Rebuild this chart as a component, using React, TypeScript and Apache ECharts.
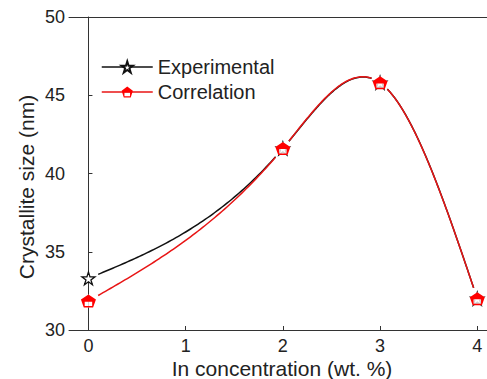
import React, { useEffect, useRef } from "react";
import * as echarts from "echarts";

const xTicks = [0, 1, 2, 3, 4];
const yTicks = [30, 35, 40, 45, 50];
const concentration = [0, 2, 3, 4];
const experimental = [33.3, 41.6, 45.8, 32.0];
const correlation = [31.85, 41.6, 45.8, 32.0];

const FONT = '"Liberation Sans", Arial, sans-serif';
const STAR =
  "path://M50 0 L61.2 34.6 L97.6 34.5 L68.1 55.9 L79.4 90.5 L50 69 L20.6 90.5 L31.9 55.9 L2.4 34.5 L38.8 34.6 Z";
const PENT =
  "path://M50 0 L100 38 L81 100 L19 100 L0 38 Z M25 55 L25 88 L75 88 L75 55 Z";
const PENT_FULL = "path://M50 0 L100 38 L81 100 L19 100 L0 38 Z";

// natural cubic spline second derivatives
function splineM(xs: number[], ys: number[]): number[] {
  const n = xs.length;
  const M = new Array(n).fill(0);
  if (n < 3) return M;
  const a: number[] = [], b: number[] = [], c: number[] = [], d: number[] = [];
  for (let i = 1; i < n - 1; i++) {
    const h0 = xs[i] - xs[i - 1];
    const h1 = xs[i + 1] - xs[i];
    a.push(h0);
    b.push(2 * (h0 + h1));
    c.push(h1);
    d.push(6 * ((ys[i + 1] - ys[i]) / h1 - (ys[i] - ys[i - 1]) / h0));
  }
  const m = b.length;
  for (let i = 1; i < m; i++) {
    const w = a[i] / b[i - 1];
    b[i] -= w * c[i - 1];
    d[i] -= w * d[i - 1];
  }
  const sol = new Array(m).fill(0);
  sol[m - 1] = d[m - 1] / b[m - 1];
  for (let i = m - 2; i >= 0; i--) sol[i] = (d[i] - c[i] * sol[i + 1]) / b[i];
  for (let i = 0; i < m; i++) M[i + 1] = sol[i];
  return M;
}

function evalSeg(xs: number[], ys: number[], M: number[], i: number, x: number) {
  const h = xs[i + 1] - xs[i];
  const A = (xs[i + 1] - x) / h;
  const B = (x - xs[i]) / h;
  return A * ys[i] + B * ys[i + 1] + ((A * A * A - A) * M[i] + (B * B * B - B) * M[i + 1]) * (h * h) / 6;
}

function curveSeries(name: string, ys: number[], color: string, z: number) {
  const M = splineM(concentration, ys);
  const GAP = 9;
  return {
    name: name + " curve",
    type: "custom",
    z,
    silent: true,
    data: concentration.map((x, i) => [x, ys[i]]),
    renderItem: (params: any, api: any) => {
      const i = params.dataIndex;
      if (i >= concentration.length - 1) return null;
      const p0 = api.coord([concentration[i], ys[i]]);
      const p1 = api.coord([concentration[i + 1], ys[i + 1]]);
      const pts: number[][] = [];
      const steps = 80;
      for (let k = 0; k <= steps; k++) {
        const x = concentration[i] + ((concentration[i + 1] - concentration[i]) * k) / steps;
        const p = api.coord([x, evalSeg(concentration, ys, M, i, x)]);
        const d0 = Math.hypot(p[0] - p0[0], p[1] - p0[1]);
        const d1 = Math.hypot(p[0] - p1[0], p[1] - p1[1]);
        if (d0 > GAP && d1 > GAP) pts.push(p);
      }
      return {
        type: "polyline",
        shape: { points: pts },
        style: { stroke: color, lineWidth: 1.5, fill: "none" },
      };
    },
  };
}

export default function App() {
  const ref = useRef<HTMLDivElement>(null);
  useEffect(() => {
    if (!ref.current) return;
    const chart = echarts.init(ref.current, null, { renderer: "svg" });
    const expData = concentration.map((x, i) => [x, experimental[i]]);
    const corData = concentration.map((x, i) => [x, correlation[i]]);
    chart.setOption({
      animation: false,
      backgroundColor: "#ffffff",
      grid: { left: 69, right: -1, top: 17, bottom: 49, show: false },
      legend: {
        left: 101,
        top: 57,
        padding: 0,
        orient: "vertical",
        itemWidth: 51,
        itemHeight: 14,
        itemGap: 5,
        textStyle: { fontFamily: FONT, fontSize: 20, color: "#222" },
        lineStyle: { opacity: 1, width: 1.5 },
        data: ["Experimental", "Correlation"],
      },
      xAxis: [
        {
          type: "value",
          min: -0.2,
          max: 4.1,
          position: "bottom",
          axisLine: { show: true, lineStyle: { color: "#333", width: 1 } },
          axisTick: { show: true, inside: true, length: 4, customValues: xTicks, lineStyle: { color: "#333" } },
          axisLabel: {
            customValues: xTicks,
            fontFamily: FONT,
            fontSize: 18,
            color: "#222",
            margin: 7,
          },
          splitLine: { show: false },
        },
        {
          type: "value",
          min: -0.2,
          max: 4.1,
          position: "top",
          axisLine: { show: true, lineStyle: { color: "#333", width: 1 } },
          axisTick: { show: false },
          axisLabel: { show: false },
          splitLine: { show: false },
        },
      ],
      yAxis: {
        type: "value",
        min: 30,
        max: 50,
        interval: 5,
        axisLine: { show: true, lineStyle: { color: "#333", width: 1 } },
        axisTick: { show: true, inside: true, length: 4, lineStyle: { color: "#333" } },
        axisLabel: {
          customValues: yTicks,
          fontFamily: FONT,
          fontSize: 18,
          color: "#222",
          margin: 4,
        },
        splitLine: { show: false },
      },
      graphic: [
        {
          type: "text",
          x: 26,
          y: 187,
          rotation: Math.PI / 2,
          style: {
            text: "Crystallite size (nm)",
            font: `21px ${FONT}`,
            fill: "#222",
            align: "center",
            verticalAlign: "middle",
          },
        },
        {
          type: "text",
          x: 282,
          y: 368,
          style: {
            text: "In concentration (wt. %)",
            font: `21px ${FONT}`,
            fill: "#222",
            align: "center",
            verticalAlign: "middle",
          },
        },
      ],
      series: [
        curveSeries("Experimental", experimental, "#111111", 1),
        curveSeries("Correlation", correlation, "#e81515", 2),
        {
          name: "Experimental",
          type: "line",
          data: expData,
          symbol: STAR,
          symbolSize: [13, 13],
          lineStyle: { color: "#111111", width: 1.5, opacity: 0 },
          itemStyle: { color: "#ffffff", borderColor: "#111111", borderWidth: 1.3 },
          z: 3,
        },
        {
          name: "Correlation backing",
          type: "scatter",
          data: corData,
          symbol: PENT_FULL,
          symbolSize: [15, 13],
          itemStyle: { color: "#ffffff" },
          silent: true,
          z: 4,
        },
        {
          name: "Correlation",
          type: "line",
          data: corData,
          symbol: PENT,
          symbolSize: [15, 13],
          lineStyle: { color: "#e81515", width: 1.5, opacity: 0 },
          itemStyle: { color: "#ff0000", borderWidth: 0 },
          z: 5,
        },
      ],
    });
    return () => chart.dispose();
  }, []);
  return (
    <div
      ref={ref}
      style={{ position: "fixed", left: 0, top: 0, width: 487, height: 379 }}
    />
  );
}
